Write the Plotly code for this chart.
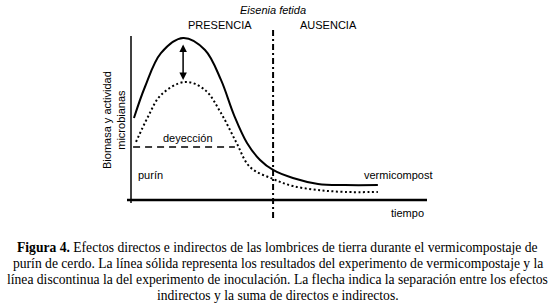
import plotly.graph_objects as go

# ---- data (arbitrary units) ----
tiempo_solido = [1.0, 4.7, 10.1, 17.6, 25.0, 30.4, 34.8, 39.2, 43.6, 48.0, 54.7, 63.2, 72.3, 83.4]
vermicompostaje = [50.0, 68.9, 89.6, 98.8, 91.5, 73.2, 51.8, 34.8, 24.4, 18.3, 13.4, 9.8, 9.1, 9.1]
tiempo_punteado = [1.7, 5.7, 10.1, 18.2, 25.0, 30.4, 35.5, 40.2, 48.0, 54.7, 63.2, 72.3, 83.4]
inoculacion = [35.4, 50.6, 64.0, 72.0, 67.1, 53.0, 35.4, 20.1, 12.8, 8.5, 6.1, 4.9, 4.9]
deyeccion_tiempo = [0.7, 35.1]
deyeccion_nivel = [32.3, 32.3]
limite_presencia = 48.0
flecha_tiempo = 17.6
flecha_y = [95.7, 73.2]
eje_x = [-1.35, 100.0]
eje_y = [-1.83, 100.0]
limite_y = [-11.0, 105.5]

W, H = 555, 308
# pixel mapping: t=0 at px 131, 2.96 px/unit; y=0 at py 200, 1.64 px/unit
x_range = [(0 - 131) / 2.96, (W - 131) / 2.96]
y_range = [(200 - H) / 1.64, 200 / 1.64]

fig = go.Figure()
fig.add_trace(go.Scatter(x=tiempo_solido, y=vermicompostaje, mode="lines",
                         line=dict(color="black", width=2, shape="spline", smoothing=1.0),
                         hoverinfo="skip"))
fig.add_trace(go.Scatter(x=tiempo_punteado, y=inoculacion, mode="lines",
                         line=dict(color="black", width=2, dash="2px,2.5px", shape="spline", smoothing=1.0),
                         hoverinfo="skip"))
fig.add_trace(go.Scatter(x=deyeccion_tiempo, y=deyeccion_nivel, mode="lines",
                         line=dict(color="black", width=1.5, dash="7px,5px"), hoverinfo="skip"))

# axes
fig.add_shape(type="line", x0=eje_x[0], x1=eje_x[1], y0=0, y1=0, line=dict(color="black", width=2.5))
fig.add_shape(type="line", x0=0, x1=0, y0=eje_y[0], y1=eje_y[1], line=dict(color="black", width=1.5))
# presence / absence limit
fig.add_shape(type="line", x0=limite_presencia, x1=limite_presencia, y0=limite_y[0], y1=limite_y[1],
              line=dict(color="black", width=2, dash="6px,3px,2px,3px"))

# double arrow
fig.add_annotation(x=flecha_tiempo, y=flecha_y[1], ax=flecha_tiempo, ay=flecha_y[0],
                   xref="x", yref="y", axref="x", ayref="y", text="", showarrow=True,
                   arrowhead=2, startarrowhead=2, arrowside="end+start", arrowsize=1,
                   arrowwidth=1.5, arrowcolor="black")

sans = "Liberation Sans, Arial, sans-serif"
def px2x(px):
    return (px - 131) / 2.96
def py2y(py):
    return (200 - py) / 1.64

def label(text, px, py, size=11, xanchor="center", italic=False, angle=0):
    fig.add_annotation(x=px2x(px), y=py2y(py), xref="x", yref="y", text=text, showarrow=False,
                       xanchor=xanchor, yanchor="middle", textangle=angle,
                       font=dict(family=sans, size=size, color="black",
                                 style="italic" if italic else "normal"))

label("Eisenia fetida", 273, 10, italic=True)
label("PRESENCIA", 220, 25)
label("AUSENCIA", 328, 25)
label("deyección", 188, 138)
label("purín", 136, 175, xanchor="left")
label("vermicompost", 362, 175, xanchor="left")
label("tiempo", 389, 213, xanchor="left")
label("Biomasa y actividad<br>microbianas", 114, 120, angle=-90)

serif = "Liberation Serif, Times New Roman, serif"
caption = [
    "<b>Figura 4.</b> Efectos directos e indirectos de las lombrices de tierra durante el vermicompostaje de",
    "purín de cerdo. La línea sólida representa los resultados del experimento de vermicompostaje y la",
    "línea discontinua la del experimento de inoculación. La flecha indica la separación entre los efectos",
    "indirectos y la suma de directos e indirectos.",
]
caption_py = [247, 263, 279, 295]
for line, py in zip(caption, caption_py):
    fig.add_annotation(x=277.5 / W, y=1 - py / H, xref="paper", yref="paper",
                       text=line, showarrow=False, xanchor="center", yanchor="middle",
                       font=dict(family=serif, size=13.6, color="black"))

fig.update_layout(width=W, height=H, margin=dict(l=0, r=0, t=0, b=0),
                  plot_bgcolor="white", paper_bgcolor="white", showlegend=False)
fig.update_xaxes(range=x_range, visible=False, showgrid=False, zeroline=False)
fig.update_yaxes(range=y_range, visible=False, showgrid=False, zeroline=False)

# remove the default 8px page margin so the figure fills the window exactly
fig.write_html("out.html", config={"displayModeBar": False, "staticPlot": True},
               post_script="document.body.style.margin='0px';")
